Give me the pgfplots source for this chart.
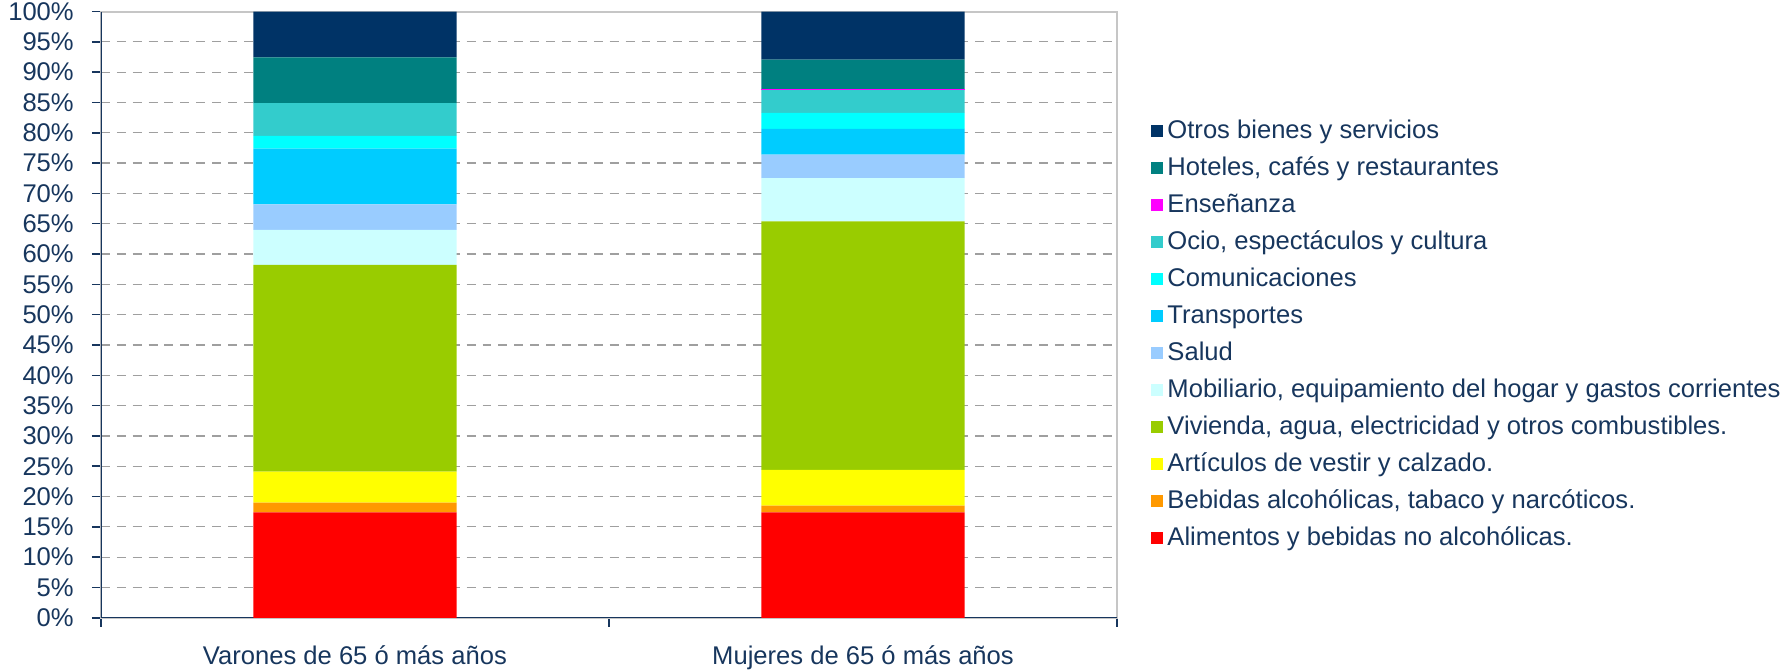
\documentclass[border=0pt]{standalone}
\usepackage{fontspec}
\setmainfont{Liberation Sans}
\usepackage{pgfplots}
\pgfplotsset{compat=1.18}

\definecolor{txt}{RGB}{23,54,93}
\definecolor{cAli}{HTML}{FF0000}
\definecolor{cBeb}{HTML}{FF9900}
\definecolor{cArt}{HTML}{FFFF00}
\definecolor{cViv}{HTML}{99CC00}
\definecolor{cMob}{HTML}{CCFFFF}
\definecolor{cSal}{HTML}{99CCFF}
\definecolor{cTra}{HTML}{00CCFF}
\definecolor{cCom}{HTML}{00FFFF}
\definecolor{cOci}{HTML}{33CCCC}
\definecolor{cEns}{HTML}{FF00FF}
\definecolor{cHot}{HTML}{008080}
\definecolor{cOtr}{HTML}{003366}

\pgfplotsset{
  sq/.style={draw=none, legend image code/.code={\fill[##1] (0pt,-2.5pt) rectangle (5pt,2.5pt);}},
}

\begin{document}
\begin{tikzpicture}[font=\fontsize{10.3}{12.4}\selectfont]
\begin{axis}[
    scale only axis, width=409pt, height=244pt,
    ybar stacked, bar width=0.4,
    xmin=-0.5, xmax=1.5, ymin=0, ymax=100,
    xtick={-0.5,0.5,1.5}, xticklabels={,,},
    extra x ticks={0,1},
    extra x tick labels={Varones de 65 ó más años, Mujeres de 65 ó más años},
    extra x tick style={major tick length=0pt, grid=none},
    ytick={0,5,...,100},
    yticklabel={\pgfmathprintnumber{\tick}\%},
    /pgf/number format/assume math mode=true,
    ymajorgrids, grid style={gray!75, dash pattern=on 3.6pt off 2.8pt, line width=0.5pt},
    axis line style={gray!45, line width=0.8pt},
    tick align=outside, xtick pos=left, ytick pos=left,
    major tick length=3.6pt,
    tick style={txt, line width=0.6pt},
    tick label style={text=txt},
    yticklabel style={xshift=-3.8pt, inner ysep=1pt},
    xticklabel style={yshift=-11pt, inner ysep=0pt},
    reverse legend,
    legend cell align=left,
    legend style={at={(1.0325,0.467)}, anchor=west, draw=none, fill=none,
      text=txt, inner sep=0pt, row sep=4.9pt,
      nodes={inner xsep=1.8pt, inner ysep=0pt, text height=7.8pt, text depth=2.2pt}},
]
\addplot[fill=cAli, sq] coordinates {(0,17.4) (1,17.4)};
\addplot[fill=cBeb, sq] coordinates {(0,1.6) (1,1.1)};
\addplot[fill=cArt, sq] coordinates {(0,5.1) (1,5.9)};
\addplot[fill=cViv, sq] coordinates {(0,34.1) (1,41.0)};
\addplot[fill=cMob, sq] coordinates {(0,5.8) (1,7.1)};
\addplot[fill=cSal, sq] coordinates {(0,4.2) (1,3.9)};
\addplot[fill=cTra, sq] coordinates {(0,9.2) (1,4.25)};
\addplot[fill=cCom, sq] coordinates {(0,2.1) (1,2.65)};
\addplot[fill=cOci, sq] coordinates {(0,5.4) (1,3.75)};
\addplot[fill=cEns, sq] coordinates {(0,0.0) (1,0.2)};
\addplot[fill=cHot, sq] coordinates {(0,7.55) (1,4.8)};
\addplot[fill=cOtr, sq] coordinates {(0,7.55) (1,7.95)};
\legend{Alimentos y bebidas no alcohólicas., Bebidas alcohólicas{,} tabaco y narcóticos., Artículos de vestir y calzado., Vivienda{,} agua{,} electricidad y otros combustibles., Mobiliario{,} equipamiento del hogar y gastos corrientes, Salud, Transportes, Comunicaciones, {Ocio, espectáculos y cultura}, Enseñanza, {Hoteles, cafés y restaurantes}, Otros bienes y servicios}
\draw[txt, line width=0.8pt] (rel axis cs:0,0) -- (rel axis cs:0,1);
\draw[txt, line width=0.8pt] (rel axis cs:0,0) -- (rel axis cs:1,0);
\end{axis}
\end{tikzpicture}
\end{document}
